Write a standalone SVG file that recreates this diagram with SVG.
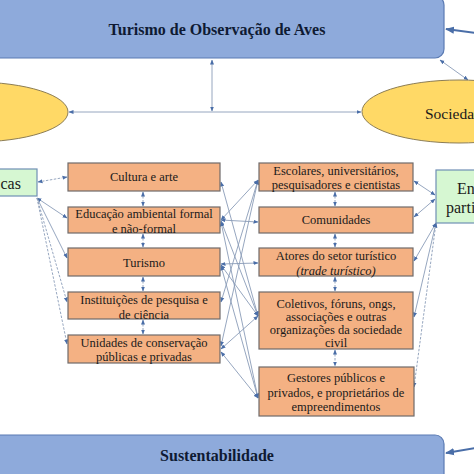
<svg xmlns="http://www.w3.org/2000/svg" width="474" height="474" viewBox="0 0 474 474">
<defs>
<style>
.blue{fill:#8eaadb;stroke:#5b7bb3;stroke-width:1.2}
.ell{fill:#ffd966;stroke:#8c7d55;stroke-width:1}
.org{fill:#f4b183;stroke:#6f6a6a;stroke-width:1.2}
.grn{fill:#d6f7d2;stroke:#6f8fb5;stroke-width:1.2}
.t{font-family:"Liberation Serif","Times New Roman",serif;fill:#1a1a1a;text-anchor:middle}
.tb{font-family:"Liberation Serif","Times New Roman",serif;font-weight:bold;font-size:16px;fill:#0f1a33;text-anchor:middle}
.s{font-size:12.5px}
.l{font-size:16px;text-anchor:start}
.c{fill:none;stroke:#8a9cb8;stroke-width:0.9}
.d{stroke-dasharray:2.5 1.5}
.k{fill:none;stroke:#4a6ea8;stroke-width:2}
</style>
<marker id="a" viewBox="0 0 10 10" refX="9" refY="5" markerWidth="5" markerHeight="5" orient="auto-start-reverse" markerUnits="userSpaceOnUse">
<path d="M0,1 L10,5 L0,9 z" fill="#4a6ea8"/>
</marker>
<marker id="b" viewBox="0 0 10 10" refX="9" refY="5" markerWidth="9" markerHeight="9" orient="auto" markerUnits="userSpaceOnUse">
<path d="M0,1 L10,5 L0,9 z" fill="#4a6ea8"/>
</marker>
</defs>

<g id="connectors">
<line class="c" x1="212" y1="60" x2="212" y2="111" marker-start="url(#a)" marker-end="url(#a)"/>
<line class="c" x1="69" y1="112" x2="361" y2="112" marker-start="url(#a)" marker-end="url(#a)"/>
<line class="c" x1="440" y1="60" x2="468" y2="80" marker-start="url(#a)" marker-end="url(#a)"/>
<path class="k" d="M476,33 L446,29" marker-end="url(#b)"/>
<path class="k" d="M476,448 L446,453" marker-end="url(#b)"/>
<line class="c d" x1="38" y1="182" x2="67" y2="177" marker-start="url(#a)" marker-end="url(#a)"/>
<line class="c" x1="37" y1="198" x2="67" y2="218" marker-start="url(#a)" marker-end="url(#a)"/>
<line class="c" x1="37" y1="198" x2="67" y2="258" marker-end="url(#a)"/>
<line class="c d" x1="37" y1="198" x2="67" y2="302" marker-end="url(#a)"/>
<line class="c d" x1="37" y1="198" x2="67" y2="344" marker-end="url(#a)"/>
<line class="c d" x1="143" y1="192" x2="143" y2="206" marker-start="url(#a)" marker-end="url(#a)"/>
<line class="c d" x1="143" y1="234" x2="143" y2="247" marker-start="url(#a)" marker-end="url(#a)"/>
<line class="c d" x1="143" y1="277" x2="143" y2="291" marker-start="url(#a)" marker-end="url(#a)"/>
<line class="c d" x1="143" y1="320" x2="143" y2="334" marker-start="url(#a)" marker-end="url(#a)"/>
<line class="c d" x1="335" y1="192" x2="335" y2="206" marker-start="url(#a)" marker-end="url(#a)"/>
<line class="c d" x1="335" y1="234" x2="335" y2="247" marker-start="url(#a)" marker-end="url(#a)"/>
<line class="c d" x1="335" y1="277" x2="335" y2="291" marker-start="url(#a)" marker-end="url(#a)"/>
<line class="c d" x1="335" y1="350" x2="335" y2="366" marker-start="url(#a)" marker-end="url(#a)"/>
<line class="c" x1="221" y1="182" x2="258" y2="316" marker-start="url(#a)" marker-end="url(#a)"/>
<line class="c" x1="221" y1="220" x2="258" y2="180" marker-start="url(#a)" marker-end="url(#a)"/>
<line class="c" x1="221" y1="220" x2="258" y2="222" marker-start="url(#a)" marker-end="url(#a)"/>
<line class="c" x1="221" y1="221" x2="258" y2="316" marker-start="url(#a)" marker-end="url(#a)"/>
<line class="c" x1="221" y1="222" x2="258" y2="398" marker-start="url(#a)" marker-end="url(#a)"/>
<line class="c" x1="221" y1="264" x2="258" y2="263" marker-start="url(#a)" marker-end="url(#a)"/>
<line class="c" x1="221" y1="265" x2="258" y2="316" marker-start="url(#a)" marker-end="url(#a)"/>
<line class="c" x1="221" y1="266" x2="258" y2="398" marker-start="url(#a)" marker-end="url(#a)"/>
<line class="c" x1="221" y1="302" x2="258" y2="180" marker-start="url(#a)" marker-end="url(#a)"/>
<line class="c" x1="221" y1="346" x2="258" y2="180" marker-start="url(#a)" marker-end="url(#a)"/>
<line class="c" x1="221" y1="349" x2="258" y2="316" marker-start="url(#a)" marker-end="url(#a)"/>
<line class="c" x1="221" y1="352" x2="258" y2="398" marker-start="url(#a)" marker-end="url(#a)"/>
<line class="c" x1="414" y1="181" x2="435" y2="195" marker-start="url(#a)" marker-end="url(#a)"/>
<line class="c" x1="414" y1="217" x2="435" y2="199" marker-start="url(#a)" marker-end="url(#a)"/>
<line class="c" x1="414" y1="261" x2="436" y2="223" marker-start="url(#a)" marker-end="url(#a)"/>
<line class="c" x1="414" y1="317" x2="436" y2="223" marker-start="url(#a)" marker-end="url(#a)"/>
<line class="c d" x1="414" y1="387" x2="436" y2="223" marker-start="url(#a)" marker-end="url(#a)"/>
</g>

<g id="turismo-observacao">
<rect class="blue" x="-20" y="-4" width="464" height="62" rx="9"/>
<text class="tb" x="217" y="35">Turismo de Observação de Aves</text>
</g>
<g id="sustentabilidade">
<rect class="blue" x="-20" y="435" width="464" height="50" rx="9"/>
<text class="tb" x="217" y="461">Sustentabilidade</text>
</g>
<g id="elipse-esquerda">
<ellipse class="ell" cx="-26" cy="112" rx="94" ry="30"/>
</g>
<g id="sociedade">
<ellipse class="ell" cx="459" cy="111.5" rx="97" ry="31.5"/>
<text class="t l" x="425" y="119" style="font-size:15.5px">Socieda</text>
</g>
<g id="politicas">
<rect class="grn" x="-40" y="169" width="77" height="27"/>
<text class="t l" x="0.5" y="189">cas</text>
</g>
<g id="entidades">
<rect class="grn" x="436" y="170" width="60" height="53"/>
<text class="t l" x="457" y="194">En</text>
<text class="t l" x="446" y="213">parti</text>
</g>

<g id="cultura"><rect class="org" x="68" y="163" width="152" height="28"/><text class="t s" x="144" y="181">Cultura e arte</text></g>
<g id="educacao"><rect class="org" x="68" y="207" width="152" height="26"/><text class="t s" x="144" y="218">Educação ambiental formal</text><text class="t s" x="144" y="233">e não-formal</text></g>
<g id="turismo"><rect class="org" x="68" y="248" width="152" height="28"/><text class="t s" x="144" y="267">Turismo</text></g>
<g id="instituicoes"><rect class="org" x="68" y="292" width="152" height="27"/><text class="t s" x="144" y="304">Instituições de pesquisa e</text><text class="t s" x="144" y="319">de ciência</text></g>
<g id="unidades"><rect class="org" x="68" y="335" width="152" height="28"/><text class="t s" x="144" y="347">Unidades de conservação</text><text class="t s" x="144" y="361">públicas e privadas</text></g>

<g id="escolares"><rect class="org" x="259" y="163" width="154" height="28"/><text class="t s" x="336" y="175">Escolares, universitários,</text><text class="t s" x="336" y="189">pesquisadores e cientistas</text></g>
<g id="comunidades"><rect class="org" x="259" y="207" width="154" height="26"/><text class="t s" x="336" y="224">Comunidades</text></g>
<g id="atores"><rect class="org" x="259" y="248" width="154" height="28"/><text class="t s" x="336" y="260">Atores do setor turístico</text><text class="t s" x="336" y="275" font-style="italic">(trade turístico)</text></g>
<g id="coletivos"><rect class="org" x="259" y="292" width="154" height="57"/><text class="t s" x="336" y="308">Coletivos, fóruns, ongs,</text><text class="t s" x="336" y="321">associações e outras</text><text class="t s" x="336" y="334">organizações da sociedade</text><text class="t s" x="336" y="347">civil</text></g>
<g id="gestores"><rect class="org" x="259" y="367" width="155" height="49"/><text class="t s" x="336" y="382">Gestores públicos e</text><text class="t s" x="336" y="397">privados, e proprietários de</text><text class="t s" x="336" y="411">empreendimentos</text></g>
</svg>
